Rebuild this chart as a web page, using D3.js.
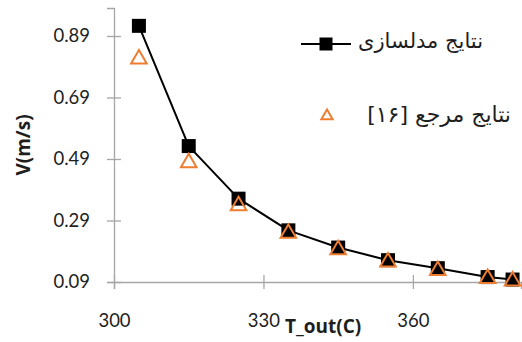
<!DOCTYPE html>
<html>
<head>
<meta charset="utf-8">
<script src="https://cdn.jsdelivr.net/npm/d3@7"></script>
<style>
    body { margin: 0; background: #fff; }
    svg { display: block; }
</style>
</head>
<body>
<svg id="chart" width="522" height="342"></svg>
<script>
"use strict";

// data
const tOut = [305, 315, 325, 335, 345, 355, 365, 375, 380];
const modelV = [0.923, 0.532, 0.361, 0.258, 0.202, 0.161, 0.135, 0.106, 0.098];
const refV = [0.82, 0.483, 0.343, 0.253, 0.2, 0.16, 0.132, 0.106, 0.098];
const xTicks = [300, 330, 360];
const yTicks = [0.09, 0.29, 0.49, 0.69, 0.89];
const legendNames = ["نتایج مدلسازی", "نتایج مرجع [۱۶]"];

const svg = d3.select("#chart");
const axisColor = "#a6a6a6";
const textColor = "#1e1e1e";
const orange = "#ed7d31";
const font = "Lato, 'Open Sans', sans-serif";
const titleFont = "'Open Sans', Lato, sans-serif";

const x = d3.scaleLinear().domain([300, 381.7]).range([114, 521]);
const y = d3.scaleLinear().domain([0.09, 0.981]).range([282, 8]);

// y axis
const yAxis = svg.append("g")
    .attr("transform", "translate(" + x(300) + ",0)")
    .call(d3.axisLeft(y).tickValues(yTicks).tickFormat(d3.format(".2f")).tickSize(7).tickPadding(17));
yAxis.select(".domain").attr("stroke", axisColor).attr("stroke-width", 1.3);
yAxis.selectAll(".tick line").attr("stroke", axisColor).attr("stroke-width", 1.3).attr("x2", 7).attr("x1", -7);
yAxis.selectAll(".tick text")
    .attr("fill", textColor)
    .style("font-family", font)
    .style("font-size", "18.5px");

// x axis
const xAxis = svg.append("g")
    .attr("transform", "translate(0," + y(0.09) + ")")
    .call(d3.axisBottom(x).tickValues(xTicks).tickFormat(d3.format("d")).tickSize(7).tickPadding(25));
xAxis.select(".domain").attr("stroke", axisColor).attr("stroke-width", 1.3);
xAxis.selectAll(".tick line").attr("stroke", axisColor).attr("stroke-width", 1.3).attr("y1", -7).attr("y2", 7);
xAxis.selectAll(".tick text")
    .attr("fill", textColor)
    .style("font-family", font)
    .style("font-size", "18.5px");

// axis titles
svg.append("text")
    .attr("x", 285)
    .attr("y", 333)
    .attr("fill", textColor)
    .style("font-family", titleFont)
    .style("font-size", "19px")
    .style("font-weight", "bold")
    .text("T_out(C)");
svg.append("text")
    .attr("transform", "translate(30,145) rotate(-90)")
    .attr("text-anchor", "middle")
    .attr("fill", textColor)
    .style("font-family", titleFont)
    .style("font-size", "19px")
    .style("font-weight", "bold")
    .text("V(m/s)");

// model line
const line = d3.line()
    .x((d, i) => x(tOut[i]))
    .y(d => y(d));
svg.append("path")
    .attr("d", line(modelV))
    .attr("fill", "none")
    .attr("stroke", "#000")
    .attr("stroke-width", 2)
    .attr("stroke-linejoin", "round");

svg.selectAll(".sq").data(modelV).enter()
    .append("rect")
    .attr("class", "sq")
    .attr("x", (d, i) => x(tOut[i]) - 7)
    .attr("y", d => y(d) - 7)
    .attr("width", 14)
    .attr("height", 14)
    .attr("fill", "#000");

const tri = d3.symbol().type(d3.symbolTriangle).size(105);
svg.selectAll(".tri").data(refV).enter()
    .append("path")
    .attr("class", "tri")
    .attr("d", tri)
    .attr("transform", (d, i) => "translate(" + x(tOut[i]) + "," + (y(d) + 1.5) + ")")
    .attr("fill", "none")
    .attr("stroke", orange)
    .attr("stroke-width", 2);

// legend
const legend = svg.append("g");
legend.append("line")
    .attr("x1", 301).attr("x2", 351)
    .attr("y1", 44).attr("y2", 44)
    .attr("stroke", "#000")
    .attr("stroke-width", 2);
legend.append("rect")
    .attr("x", 319.5).attr("y", 37.5)
    .attr("width", 13).attr("height", 13)
    .attr("fill", "#000");
legend.append("path")
    .attr("d", d3.symbol().type(d3.symbolTriangle).size(55))
    .attr("transform", "translate(327,116)")
    .attr("fill", "none")
    .attr("stroke", orange)
    .attr("stroke-width", 2);
legend.selectAll(".lg").data(legendNames).enter()
    .append("text")
    .attr("class", "lg")
    .attr("x", (d, i) => i === 0 ? 483 : 511)
    .attr("y", (d, i) => i === 0 ? 48 : 122)
    .attr("direction", "rtl")
    .attr("text-anchor", "start")
    .attr("fill", textColor)
    .style("font-family", "'DejaVu Sans', sans-serif")
    .style("font-size", (d, i) => i === 0 ? "21px" : "22px")
    .text(d => d);
</script>
</body>
</html>
